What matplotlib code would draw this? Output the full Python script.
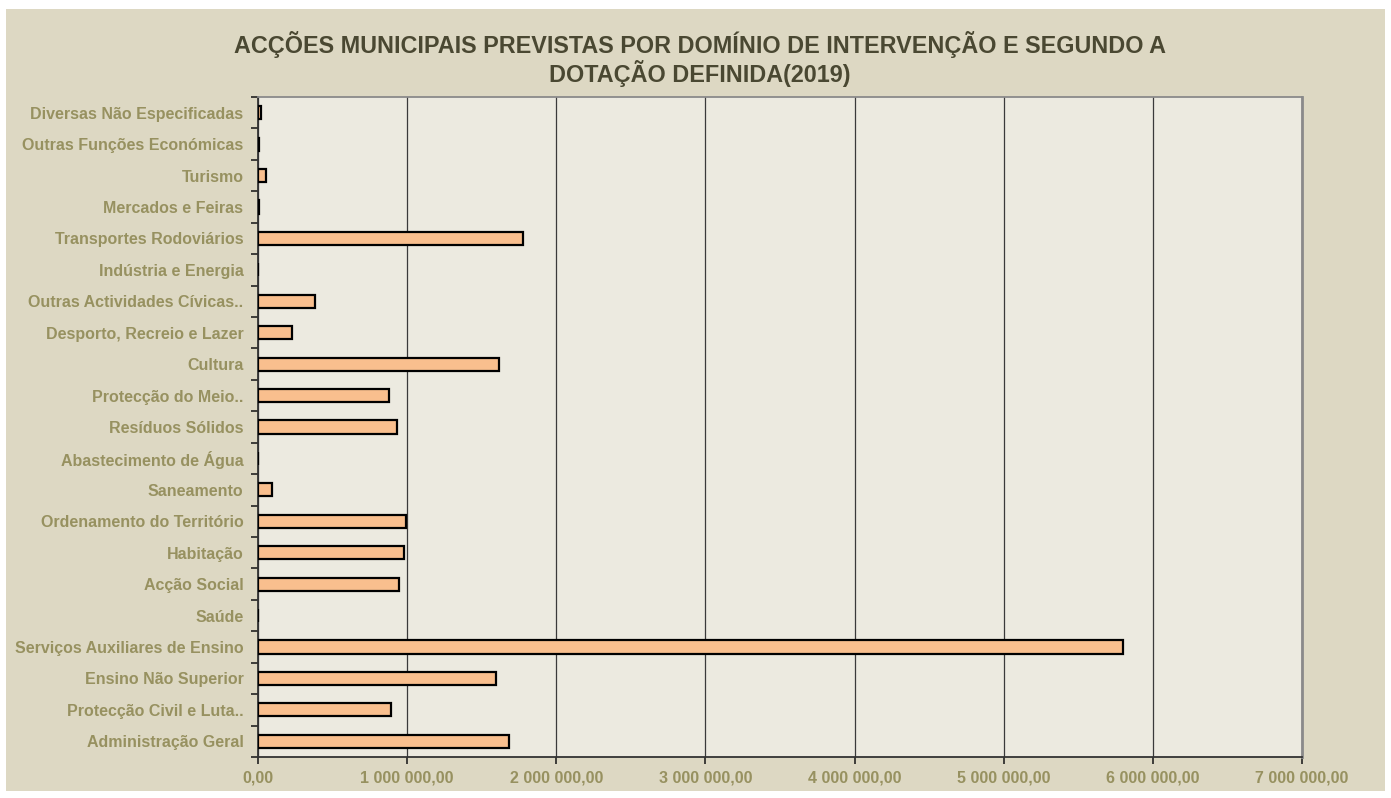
import matplotlib.pyplot as plt
import matplotlib.ticker as mticker
from matplotlib.patches import Rectangle
import numpy as np

# Domínios de intervenção (de baixo para cima no gráfico)
DOMINIOS = [
    'Administração Geral',
    'Protecção Civil e Luta..',
    'Ensino Não Superior',
    'Serviços Auxiliares de Ensino',
    'Saúde',
    'Acção Social',
    'Habitação',
    'Ordenamento do Território',
    'Saneamento',
    'Abastecimento de Água',
    'Resíduos Sólidos',
    'Protecção do Meio..',
    'Cultura',
    'Desporto, Recreio e Lazer',
    'Outras Actividades Cívicas..',
    'Indústria e Energia',
    'Transportes Rodoviários',
    'Mercados e Feiras',
    'Turismo',
    'Outras Funções Económicas',
    'Diversas Não Especificadas',
]

# Dotação definida (euros)
DOTACAO = [
    1681000, 892000, 1594000, 5800000, 0, 944000, 977000, 990000,
    94000, 0, 930000, 876000, 1618000, 226000, 382000, 3000,
    1777000, 7000, 55000, 7000, 20000,
]

TICKS_X = [0, 1e6, 2e6, 3e6, 4e6, 5e6, 6e6, 7e6]

FUNDO = '#DDD8C3'
FUNDO_AX = '#ECEAE0'
COR_BARRA = '#F9BF8E'
COR_TEXTO = '#979160'
COR_TITULO = '#4A4832'

plt.rcParams['font.family'] = ['Liberation Sans', 'DejaVu Sans']
plt.rcParams['font.weight'] = 'bold'

fig = plt.figure(figsize=(13.91, 7.98), dpi=100)
fig.patch.set_facecolor('white')
fig.patches.append(Rectangle((6 / 1391, 7 / 798), 1379 / 1391, 782 / 798,
                             transform=fig.transFigure, facecolor=FUNDO,
                             edgecolor='none', zorder=-10))

ax = fig.add_axes([258 / 1391, 1 - 757 / 798, 1044 / 1391, 660 / 798])
ax.set_facecolor(FUNDO_AX)

y = np.arange(len(DOMINIOS))
ax.barh(y, DOTACAO, height=0.42, color=COR_BARRA, edgecolor='black',
        linewidth=1.6, zorder=3)

ax.set_xlim(0, 7e6)
ax.set_ylim(-0.5, len(DOMINIOS) - 0.5)
ax.set_xticks(TICKS_X)
ax.xaxis.set_major_formatter(mticker.FuncFormatter(
    lambda v, p: f'{v:,.2f}'.replace(',', ' ').replace('.', ',')))
ax.grid(axis='x', color='#3a3a3a', linewidth=0.9, zorder=1)

ax.set_yticks(y)
ax.set_yticklabels(DOMINIOS)
ax.set_yticks(np.arange(-0.5, len(DOMINIOS), 1), minor=True)
ax.tick_params(axis='y', which='major', length=0, pad=10.5,
               labelsize=11.5, labelcolor=COR_TEXTO)
ax.tick_params(axis='y', which='minor', length=5, width=1.2, color='#222222')
ax.tick_params(axis='x', length=5, width=1.2, color='#222222', pad=5,
               labelsize=11.5, labelcolor=COR_TEXTO)

ax.spines['left'].set_color('#333333')
ax.spines['left'].set_linewidth(1.3)
ax.spines['bottom'].set_color('#333333')
ax.spines['bottom'].set_linewidth(1.3)
ax.spines['top'].set_color('#8a8a8a')
ax.spines['top'].set_linewidth(1.3)
ax.spines['right'].set_color('#8a8a8a')
ax.spines['right'].set_linewidth(2)

fig.text(0.503, 1 - 59 / 798,
         'ACÇÕES MUNICIPAIS PREVISTAS POR DOMÍNIO DE INTERVENÇÃO E SEGUNDO A\nDOTAÇÃO DEFINIDA(2019)',
         ha='center', va='center', fontsize=16.8, fontweight='bold',
         color=COR_TITULO, linespacing=1.08)

fig.savefig('out.png', dpi=100, facecolor=fig.get_facecolor())
